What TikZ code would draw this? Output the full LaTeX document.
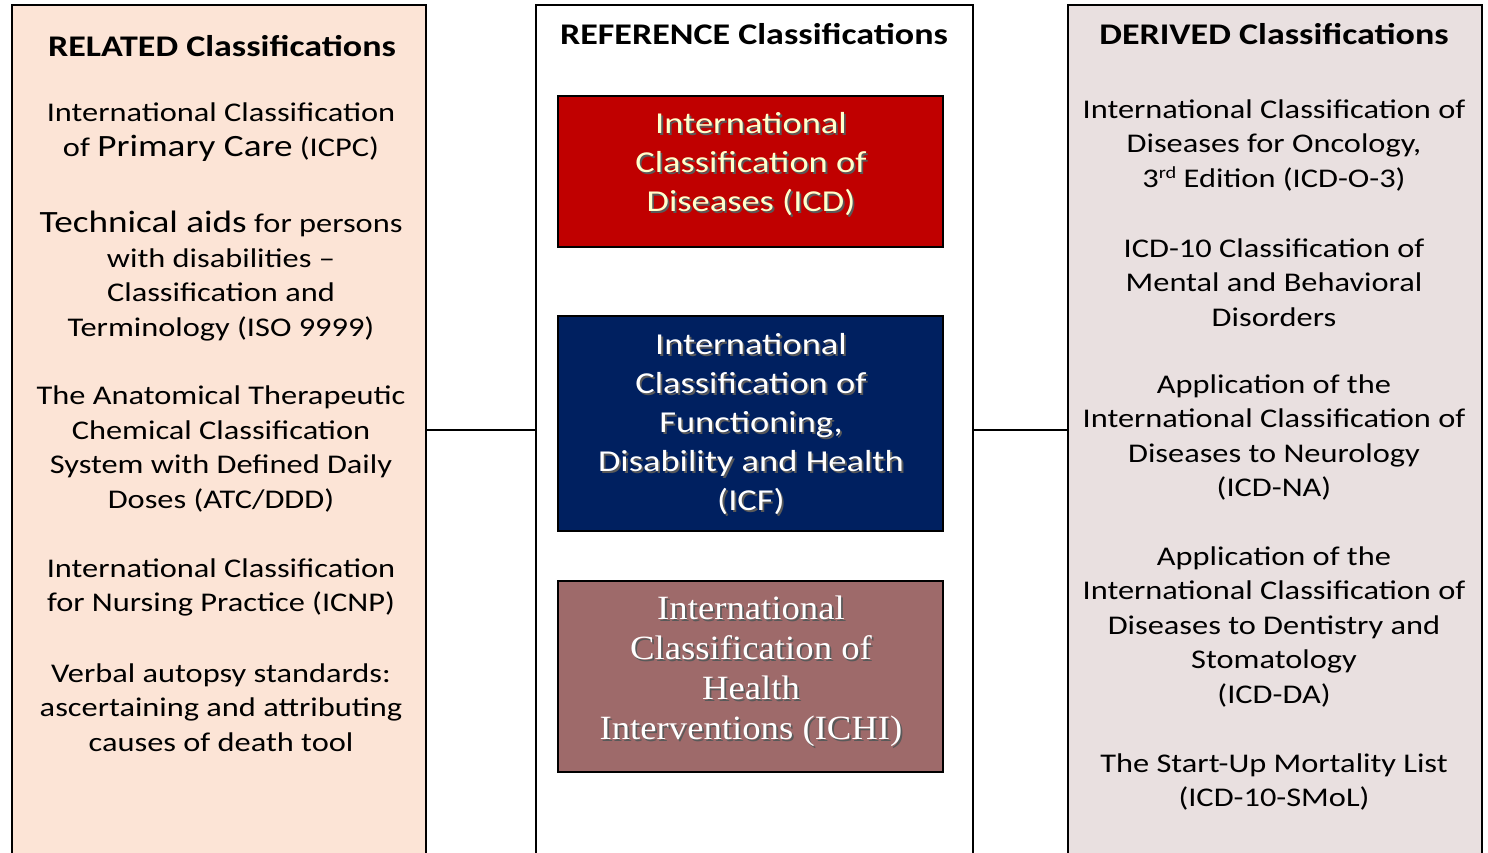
\documentclass[tikz,border=0pt]{standalone}
\usepackage{fontspec}
\setmainfont{Carlito}[FakeStretch=1.2]
\newfontfamily\timesfont{Liberation Serif}[FakeStretch=1.08]
\usetikzlibrary{positioning}
\definecolor{relfill}{HTML}{FCE4D6}
\definecolor{derfill}{HTML}{E9E0E0}
\definecolor{icdred}{HTML}{C00000}
\definecolor{icfblue}{HTML}{002060}
\definecolor{ichirose}{HTML}{9E6A6A}
\definecolor{cream}{HTML}{FFFFCC}
\newcommand{\Shd}[1]{\leavevmode\rlap{\kern0.9pt\raisebox{-0.9pt}{\textcolor{black!65}{#1}}}#1}
\newcommand{\Lg}[1]{{\fontsize{15.5}{17.25}\selectfont #1}}
\newcommand{\Sup}[1]{\raisebox{0.32em}{\fontsize{8.5}{8.5}\selectfont #1}}
\tikzset{
  panel/.style={draw=black, line width=1pt, inner sep=0pt, minimum height=424.5pt},
  refbox/.style={draw=black, line width=1pt, inner sep=0pt, minimum width=192.5pt},
  item/.style={align=center, inner sep=0pt, font=\fontsize{13.5}{17.25}\selectfont},
  title/.style={inner sep=0pt, font=\fontsize{15}{18}\selectfont\bfseries},
  reftext/.style={align=center, inner sep=0pt, font=\fontsize{15.2}{19.5}\selectfont},
  link/.style={draw=black, line width=1pt}
}
\begin{document}
\begin{tikzpicture}[x=0.5pt,y=-0.5pt]
  \useasboundingbox (0,0) rectangle (1488,852);
  % three panels
  \node[panel, fill=relfill, minimum width=207pt] (rel) at (219,429.5) {};
  \node[panel, fill=white, minimum width=218.5pt] (ref) at (754.5,429.5) {};
  \node[panel, fill=derfill, minimum width=207pt] (der) at (1275,429.5) {};
  \draw[link] (rel.east) -- (ref.west);
  \draw[link] (ref.east) -- (der.west);
  % related
  \node[title] (reltitle) at (222,46) {RELATED Classifications};
  \node[item] (icpc) at (221,132) {International Classification\\of \Lg{Primary Care} (ICPC)};
  \node[item] (iso) at (221,276) {\Lg{Technical aids} for persons\\with disabilities --\\Classification and\\Terminology (ISO 9999)};
  \node[item] (atc) at (221,449) {The Anatomical Therapeutic\\Chemical Classification\\System with Defined Daily\\Doses (ATC/DDD)};
  \node[item] (icnp) at (221,587.5) {International Classification\\for Nursing Practice (ICNP)};
  \node[item] (verbal) at (221,707.5) {Verbal autopsy standards:\\ascertaining and attributing\\causes of death tool};
  % reference
  \node[title] (reftitle) at (754,34) {REFERENCE Classifications};
  \node[refbox, fill=icdred, minimum height=75.5pt] (icd) at (750.5,171.5) {};
  \node[refbox, fill=icfblue, minimum height=107.5pt] (icf) at (750.5,423.5) {};
  \node[refbox, fill=ichirose, minimum height=95.5pt] (ichi) at (750.5,676.5) {};
  \node[reftext, text=cream] (icdtext) at (751,165)
    {\Shd{International}\\\Shd{Classification of}\\\Shd{Diseases (ICD)}};
  \node[reftext, text=white] (icftext) at (751,425)
    {\Shd{International}\\\Shd{Classification of}\\\Shd{Functioning,}\\\Shd{Disability and Health}\\\Shd{(ICF)}};
  \node[reftext, text=white, font=\fontsize{17}{20}\timesfont] (ichitext) at (751,672)
    {\Shd{International}\\\Shd{Classification of}\\\Shd{Health}\\\Shd{Interventions (ICHI)}};
  % derived
  \node[title] (dertitle) at (1274,34) {DERIVED Classifications};
  \node[item] (icdo) at (1274,145) {International Classification of\\Diseases for Oncology,\\3\Sup{rd} Edition (ICD-O-3)};
  \node[item] (mental) at (1274,282.5) {ICD-10 Classification of\\Mental and Behavioral\\Disorders};
  \node[item] (icdna) at (1274,437.5) {Application of the\\International Classification of\\Diseases to Neurology\\(ICD-NA)};
  \node[item] (icdda) at (1274,626.5) {Application of the\\International Classification of\\Diseases to Dentistry and\\Stomatology\\(ICD-DA)};
  \node[item] (smol) at (1274,782) {The Start-Up Mortality List\\(ICD-10-SMoL)};
\end{tikzpicture}
\end{document}
